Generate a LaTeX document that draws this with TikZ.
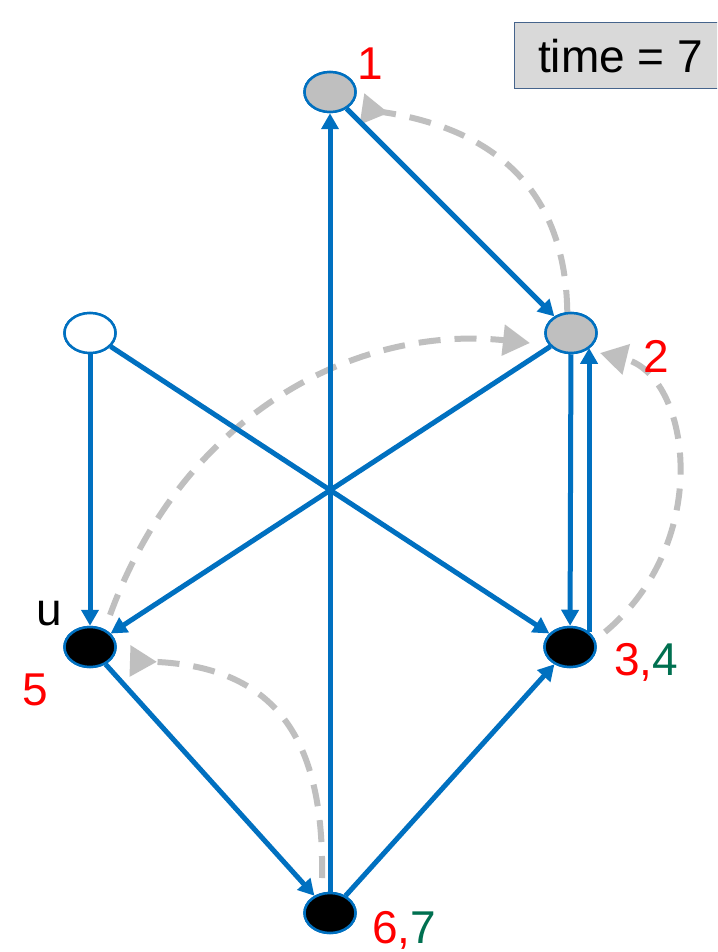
\documentclass[tikz,border=0pt]{standalone}
\usepackage{fontspec}
\setmainfont{Liberation Sans}
\usetikzlibrary{arrows.meta,shapes.geometric,calc}
\definecolor{eblue}{RGB}{0,112,192}
\definecolor{dgray}{RGB}{191,191,191}
\definecolor{ngray}{RGB}{191,191,191}
\definecolor{lred}{RGB}{255,0,0}
\definecolor{lgreen}{RGB}{0,112,80}
\definecolor{boxfill}{RGB}{217,217,217}
\definecolor{boxdraw}{RGB}{70,100,140}
\tikzset{
  vtx/.style={ellipse, draw=eblue, line width=2.5pt, minimum width=51pt, minimum height=40pt, inner sep=0pt},
  edge/.style={eblue, line width=5pt, -{Triangle[length=16pt,width=17pt]}},
  dashedge/.style={dgray, line width=6pt, dash pattern=on 22pt off 14pt, -{Triangle[length=27pt,width=30pt]}},
  dashrev/.style={dgray, line width=6pt, dash pattern=on 22pt off 14pt, -{Triangle[reversed,length=27pt,width=30pt]}},
  lbl/.style={font=\fontsize{46}{50}\selectfont, inner sep=0pt, anchor=base},
}
\begin{document}
\begin{tikzpicture}[x=1pt,y=-1pt]
\useasboundingbox (0,0) rectangle (717,952);
\clip (0,0) rectangle (717,952);
\fill[white] (0,0) rectangle (717,952);

% nodes
\node[vtx, fill=ngray] (n1) at (330,92) {};
\node[vtx, fill=ngray] (n2) at (571,333) {};
\node[vtx, fill=white] (w) at (90,333) {};
\node[vtx, fill=black] (u) at (90,647) {};
\node[vtx, fill=black] (n34) at (570,647) {};
\node[vtx, fill=black] (n67) at (330,913) {};

% dashed gray curves (drawn below blue edges)
\draw[dashrev] (n2.100) .. controls (565,170) and (470,125) .. ([shift={(32,17)}]n1.center);
\draw[dashedge] ([shift={(20,-32)}]u.center) .. controls (185,410) and (360,325) .. ([shift={(-41,10)}]n2.center);
\draw[dashedge] ([shift={(35,-15)}]n34.center) .. controls (715,540) and (690,375) .. ([shift={(29,20)}]n2.center);
\draw[dashrev] ([shift={(-8,-35)}]n67.center) .. controls (325,720) and (260,665) .. ([shift={(40,14)}]u.center);

% blue edges
\draw[edge] (n67) -- (n1);
\draw[edge] (n1) -- (n2);
\draw[edge] (w) -- (u);
\draw[edge] (w) -- (n34);
\draw[edge] (n2) -- (u);
\draw[edge] (n2) -- (n34);
\draw[edge] (n34.38) -- (n34.38 |- n2.-38);
\draw[edge] (u) -- (n67);
\draw[edge] (n67) -- (n34);

% redraw nodes on top
\node[vtx, fill=ngray] at (n1) {};
\node[vtx, fill=ngray] at (n2) {};
\node[vtx, fill=white] at (w) {};
\node[vtx, fill=black] at (u) {};
\node[vtx, fill=black] at (n34) {};
\node[vtx, fill=black] at (n67) {};

% labels
\node[lbl, text=lred] (l1) at (370,80) {1};
\node[lbl, text=lred] (l2) at (656,372) {2};
\node[lbl, text=black] (lu) at (49,625) {u};
\node[lbl, text=lred] (l5) at (35,705) {5};
\node[lbl] (l34) at (646,675) {\textcolor{lred}{3,}\textcolor{lgreen}{4}};
\node[lbl] (l67) at (404,943) {\textcolor{lred}{6,}\textcolor{lgreen}{7}};

% time box
\node[draw=boxdraw, fill=boxfill, line width=1.2pt, anchor=north west, minimum width=212pt, minimum height=66pt, inner sep=0pt, font=\fontsize{46}{50}\selectfont] (tb) at (514,22) {time = 7};
\end{tikzpicture}
\end{document}
